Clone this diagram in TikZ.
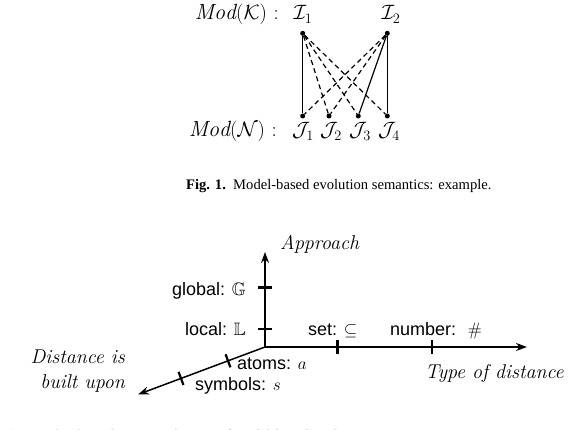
\documentclass[tikz,border=0pt]{standalone}
\usepackage{amssymb}
\usepackage{fontspec}
\setsansfont{Liberation Sans}
\newfontfamily\capfont{Liberation Serif}
\usetikzlibrary{arrows.meta,calc}
\begin{document}
\begin{tikzpicture}[x=1pt,y=-1pt,
  mathlbl/.style={font=\fontsize{22}{26}\selectfont, inner sep=0pt},
  dotnode/.style={circle, fill=black, inner sep=0pt, minimum size=5pt},
  solidedge/.style={line width=1.2pt},
  dashededge/.style={line width=1.2pt, dash pattern=on 5pt off 3.5pt},
  axis/.style={line width=1.5pt, -{Stealth[length=11pt,width=8pt]}},
  tick/.style={line width=2.2pt},
  sanslbl/.style={font=\sffamily\fontsize{18}{22}\selectfont, inner sep=0pt},
  itlbl/.style={font=\itshape\fontsize{20}{24}\selectfont, inner sep=0pt},
  caption/.style={font=\capfont\fontsize{14.6}{18}\selectfont, inner sep=0pt}]
\useasboundingbox (0,0) rectangle (568,430);
% ---------- Figure 1 ----------
\node[dotnode] (i1) at (302.7,33.3) {};
\node[dotnode] (i2) at (387.3,33.3) {};
\node[dotnode] (j1) at (302.7,116) {};
\node[dotnode] (j2) at (329,116) {};
\node[dotnode] (j3) at (358.3,116) {};
\node[dotnode] (j4) at (387.3,116) {};
\node[mathlbl, anchor=base] (li1) at (303,20) {$\mathcal{I}_1$};
\node[mathlbl, anchor=base] (li2) at (391,20) {$\mathcal{I}_2$};
\node[mathlbl, anchor=base east] (modk) at (279,20) {$\mathit{Mod}(\mathcal{K})\ {:}$};
\node[mathlbl, anchor=base] (lj1) at (303,137) {$\mathcal{J}_1$};
\node[mathlbl, anchor=base] (lj2) at (331,137) {$\mathcal{J}_2$};
\node[mathlbl, anchor=base] (lj3) at (360,137) {$\mathcal{J}_3$};
\node[mathlbl, anchor=base] (lj4) at (389,137) {$\mathcal{J}_4$};
\node[mathlbl, anchor=base east] (modn) at (277,137) {$\mathit{Mod}(\mathcal{N})\ {:}$};
\draw[solidedge] (i1) -- (j1);
\draw[dashededge] (i1) -- (j2);
\draw[dashededge] (i1) -- (j3);
\draw[dashededge] (i1) -- (j4);
\draw[dashededge] (i2) -- (j1);
\draw[dashededge] (i2) -- (j2);
\draw[solidedge] (i2) -- (j3);
\draw[solidedge] (i2) -- (j4);
\node[caption, anchor=base west] (cap1) at (186,190) {\textbf{Fig. 1.}\enspace Model-based evolution semantics: example.};
% ---------- Figure 2 ----------
\coordinate (o) at (265,347);
\coordinate (ytip) at (265,252);
\coordinate (xtip) at (527,347);
\coordinate (ztip) at (138,394.5);
\draw[axis] (o) -- (ytip);
\draw[axis] (o) -- (xtip);
\draw[axis] (o) -- (ztip);
% ticks
\draw[tick] (258,287.5) -- (272,287.5);
\draw[tick] (258,329) -- (272,329);
\draw[tick] (337.5,340) -- (337.5,354);
\draw[tick] (431.7,340) -- (431.7,354);
\draw[tick] ($(228,360.8)+(2.45,6.55)$) -- ($(228,360.8)+(-2.45,-6.55)$);
\draw[tick] ($(181,378.4)+(2.45,6.55)$) -- ($(181,378.4)+(-2.45,-6.55)$);
% labels
\node[itlbl, anchor=base west] (app) at (280,250) {Approach};
\node[sanslbl, anchor=base east] (glob) at (246,296) {global: $\mathbb{G}$};
\node[sanslbl, anchor=base east] (loc) at (246,336) {local: $\mathbb{L}$};
\node[sanslbl, anchor=base west] (set) at (308,336) {set: $\subseteq$};
\node[sanslbl, anchor=base west] (num) at (390,336) {number: \ $\#$};
\node[sanslbl, anchor=base west] (atoms) at (237,370) {atoms: $a$};
\node[sanslbl, anchor=base west] (sym) at (195,391) {symbols: $s$};
\node[itlbl, anchor=base east] (dist1) at (125,364) {Distance is};
\node[itlbl, anchor=base east] (dist2) at (125,389) {built upon};
\node[itlbl, anchor=base west] (type) at (425,379) {Type of distance};
\node[caption, anchor=base west] (cap2) at (0,440) {\textbf{Fig. 2.}\enspace The three-dimensional space of model-based evolution semantics.};
\end{tikzpicture}
\end{document}
